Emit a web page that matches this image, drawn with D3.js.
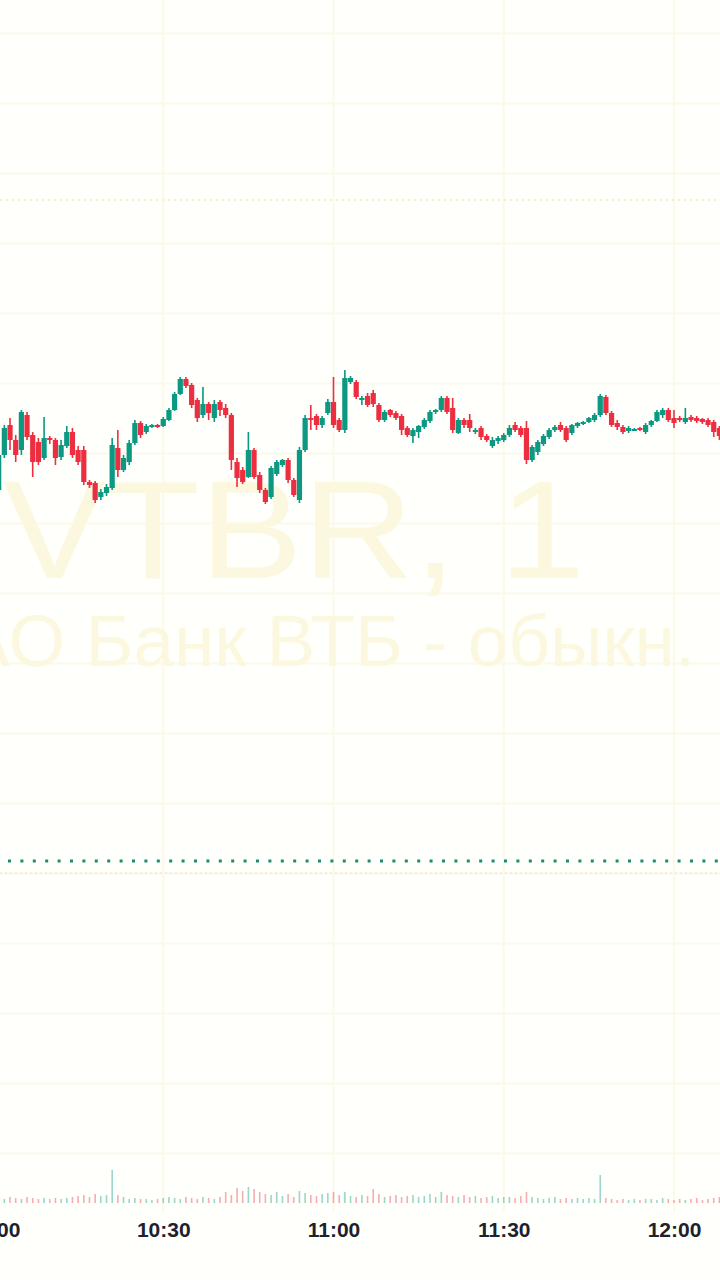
<!DOCTYPE html>
<html>
<head>
  <meta charset="utf-8">
  <script src="https://d3js.org/d3.v7.min.js"></script>
  <style>
    html, body { margin: 0; padding: 0; background: #fffffb; }
    * { font-family: "Liberation Sans", Arial, sans-serif; }
  </style>
</head>
<body>
<div id="chart"></div>
<script>

// 1-minute candles, VTBR, starting 10:01
var startMinute = 1;
var open = [2213,2248,2278,2263,2253,2288,2268,2261,2245,2265, 2263,2246,2257,2271,2253,2253,2221,2220,2206,2210,
  2215,2255,2233,2241,2260,2280,2271,2276,2278,2277, 2283,2293,2309,2324,2318,2303,2288,2299,2285,2301,
  2295,2288,2241,2233,2226,2253,2228,2213,2206,2229, 2238,2243,2223,2203,2253,2285,2287,2278,2290,2301,
  2283,2273,2321,2321,2303,2307,2310,2298,2283,2293, 2290,2287,2275,2267,2271,2276,2282,2291,2293,2305,
  2295,2270,2283,2283,2271,2275,2267,2257,2262,2263, 2268,2278,2275,2275,2243,2251,2259,2266,2273,2278,
  2275,2270,2277,2279,2281,2283,2288,2306,2290,2280, 2276,2272,2273,2275,2271,2278,2282,2288,2293,2285,
  2285,2281,2286,2285,2284,2283,2281,2275];
var high = [2255,2278,2285,2268,2293,2291,2271,2265,2286,2267, 2265,2263,2277,2275,2257,2257,2223,2222,2214,2219,
  2265,2273,2248,2263,2283,2282,2279,2279,2279,2286, 2295,2311,2326,2326,2320,2305,2316,2301,2303,2303,
  2299,2290,2245,2236,2271,2255,2231,2215,2237,2243, 2244,2245,2225,2256,2288,2298,2289,2287,2304,2326,
  2285,2333,2327,2323,2307,2310,2313,2300,2293,2294, 2292,2289,2277,2275,2278,2285,2293,2294,2307,2307,
  2305,2285,2285,2289,2275,2277,2269,2266,2267,2270, 2278,2281,2277,2282,2258,2263,2269,2275,2278,2281,
  2277,2279,2281,2282,2286,2290,2309,2308,2292,2283, 2278,2277,2275,2276,2280,2283,2293,2295,2295,2293,
  2287,2295,2288,2287,2285,2285,2283,2277];
var low = [2211,2245,2253,2241,2248,2263,2226,2238,2243,2259, 2238,2243,2255,2245,2238,2218,2215,2200,2203,2207,
  2213,2226,2231,2238,2258,2265,2269,2275,2275,2276, 2282,2292,2308,2315,2295,2281,2285,2283,2281,2287,
  2285,2233,2216,2219,2225,2224,2210,2199,2204,2227, 2236,2220,2206,2200,2251,2273,2273,2275,2288,2275,
  2271,2270,2319,2304,2298,2296,2296,2281,2281,2286, 2283,2268,2266,2260,2265,2274,2280,2289,2291,2289,
  2270,2269,2275,2271,2269,2263,2261,2255,2259,2261, 2266,2271,2266,2239,2241,2248,2257,2264,2271,2271,
  2261,2268,2275,2278,2280,2281,2286,2288,2276,2273, 2269,2270,2272,2272,2269,2276,2281,2285,2281,2275,
  2281,2279,2281,2280,2279,2276,2266,2263];
var close = [2248,2275,2263,2248,2291,2266,2241,2241,2265,2263, 2245,2258,2271,2248,2241,2221,2218,2203,2211,2216,
  2258,2233,2245,2260,2280,2268,2277,2278,2276,2284, 2293,2309,2324,2317,2298,2285,2299,2290,2299,2293,
  2288,2243,2225,2221,2253,2226,2213,2201,2235,2241, 2243,2223,2208,2253,2285,2283,2278,2285,2301,2278,
  2273,2325,2325,2306,2305,2298,2299,2283,2291,2288, 2285,2273,2268,2273,2277,2283,2291,2293,2305,2291,
  2273,2283,2278,2275,2273,2266,2263,2263,2265,2268, 2275,2273,2268,2243,2256,2261,2267,2273,2276,2273,
  2263,2278,2280,2281,2285,2288,2307,2290,2278,2276, 2271,2275,2274,2273,2278,2282,2291,2293,2283,2280,
  2283,2285,2283,2282,2281,2278,2271,2267];
var volume = [50,40,60,50,40,60,50,40,50,40, 50,40,50,60,70,80,60,90,70,80,
  330,80,60,40,50,40,40,30,40,50, 60,50,40,60,50,40,60,50,40,60,
  110,80,150,120,160,140,110,90,80,110, 70,90,60,120,100,80,70,90,100,110,
  80,110,70,60,80,70,140,90,60,70, 80,60,70,80,60,70,90,60,110,80,
  70,60,80,60,70,50,60,70,50,60, 60,50,70,110,60,50,40,50,60,40,
  50,40,50,40,50,40,280,50,40,30, 40,30,40,30,40,40,30,50,40,30,
  40,30,40,50,30,40,50,60];

var timeTicks = ["10:00", "10:30", "11:00", "11:30", "12:00"];
var priceGrid = [1550,1620,1690,1760,1830,1900,1970,2040,2110,2180,2250,2320,2390,2460,2530,2600,2670];
var lastPriceLine = 1842;   // green dotted
var highLine = 2503;        // faint dotted
var pinkLine = 1830;
var watermark = "VTBR, 1";
var watermarkSub = "ПАО Банк ВТБ - обыкн.";

var W = 720, H = 1280;
var parseT = d3.timeParse("%H:%M");
var day = parseT("10:00");
var candles = open.map(function(o, i) {
  return { t: d3.timeMinute.offset(day, startMinute + i), o: o, h: high[i], l: low[i], c: close[i], v: volume[i] };
});

var svg = d3.select("#chart").append("svg")
  .attr("width", W).attr("height", H);

svg.append("defs").append("filter").attr("id", "soft")
  .append("feGaussianBlur").attr("stdDeviation", 0.5);

svg.append("rect").attr("width", W).attr("height", H).attr("fill", "#fffffb");

var x = d3.scaleTime()
  .domain([parseT("10:00"), parseT("12:00")])
  .range([-7, 674]);

var y = d3.scaleLinear()
  .domain([1423, 2703])
  .range([H, 0]);

var yVol = d3.scaleLinear()
  .domain([0, 400])
  .range([1203, 1163]);

// grid
svg.append("g").selectAll("line.h")
  .data(priceGrid).enter().append("line")
    .attr("x1", 0).attr("x2", W)
    .attr("y1", function(d) { return y(d) + 0.5; })
    .attr("y2", function(d) { return y(d) + 0.5; })
    .attr("stroke", "#fcf9e9").attr("stroke-width", 2);

svg.append("g").selectAll("line.v")
  .data(timeTicks).enter().append("line")
    .attr("x1", function(d) { return x(parseT(d)); })
    .attr("x2", function(d) { return x(parseT(d)); })
    .attr("y1", 0).attr("y2", 1212)
    .attr("stroke", "#fcf9e9").attr("stroke-width", 2);

// watermark
svg.append("text")
  .attr("transform", "translate(294,578) scale(1.1,1)")
  .attr("text-anchor", "middle")
  .style("font-size", "140px")
  .attr("fill", "#fcf8df")
  .text(watermark);

svg.append("text")
  .attr("x", 302).attr("y", 666)
  .attr("text-anchor", "middle")
  .style("font-size", "73px")
  .attr("fill", "#fcf8df")
  .text(watermarkSub);

// dotted price lines
svg.append("line")
  .attr("x1", 0).attr("x2", W)
  .attr("y1", y(highLine)).attr("y2", y(highLine))
  .attr("stroke", "#f6efc6").attr("stroke-width", 2)
  .attr("stroke-dasharray", "2 4");

svg.append("line")
  .attr("x1", 0).attr("x2", W)
  .attr("y1", y(pinkLine)).attr("y2", y(pinkLine))
  .attr("stroke", "#f9e4dd").attr("stroke-width", 1.5)
  .attr("stroke-dasharray", "2 3");

svg.append("line")
  .attr("x1", 8).attr("x2", W)
  .attr("y1", y(lastPriceLine)).attr("y2", y(lastPriceLine))
  .attr("stroke", "#1f8a70").attr("stroke-width", 3)
  .attr("stroke-dasharray", "3 9.4");

var up = "#089981", down = "#ec2f40";

// volume
svg.append("g").selectAll("rect")
  .data(candles).enter().append("rect")
    .attr("x", function(d) { return x(d.t) - 0.8; })
    .attr("width", 1.6)
    .attr("y", function(d) { return yVol(d.v); })
    .attr("height", function(d) { return yVol(0) - yVol(d.v); })
    .attr("fill", function(d) { return d.c >= d.o ? up : down; })
    .attr("opacity", 0.4);

// candles
var g = svg.append("g").attr("filter", "url(#soft)")
  .selectAll("g")
  .data(candles).enter().append("g");

g.append("line")
  .attr("x1", function(d) { return x(d.t); })
  .attr("x2", function(d) { return x(d.t); })
  .attr("y1", function(d) { return y(d.h); })
  .attr("y2", function(d) { return y(d.l); })
  .attr("stroke", function(d) { return d.c >= d.o ? up : down; })
  .attr("stroke-width", 1.6);

g.append("rect")
  .attr("x", function(d) { return x(d.t) - 2.6; })
  .attr("width", 5.2)
  .attr("y", function(d) { return y(Math.max(d.o, d.c)); })
  .attr("height", function(d) { return Math.max(2, Math.abs(y(d.o) - y(d.c))); })
  .attr("fill", function(d) { return d.c >= d.o ? up : down; });

// time axis
var axis = svg.append("g")
  .attr("transform", "translate(0,1214)")
  .call(d3.axisBottom(x)
    .tickValues(timeTicks.map(parseT))
    .tickFormat(d3.timeFormat("%H:%M"))
    .tickSize(0).tickPadding(8));
axis.select(".domain").remove();
axis.selectAll("text")
  .style("font-size", "21px")
  .style("font-weight", "bold")
  .attr("fill", "#1e222d");

</script>
</body>
</html>
